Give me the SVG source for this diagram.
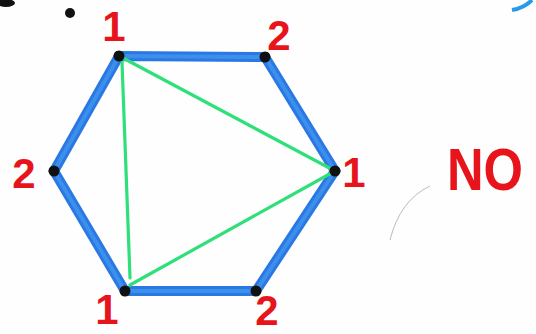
<svg xmlns="http://www.w3.org/2000/svg" width="536" height="334" viewBox="0 0 536 334">
<style>
.edge{stroke:#2a78e4;stroke-width:10;stroke-linecap:round;fill:none}
.core{stroke:#4aa0f0;stroke-width:4;stroke-linecap:round;fill:none;opacity:.6}
.diag{stroke:#2fe07a;stroke-width:3.2;stroke-linecap:round;fill:none}
.v{fill:#111}
.lbl{font-family:"Liberation Sans",Arial,sans-serif;font-weight:bold;fill:#e8141c;font-size:42px;text-anchor:middle}
</style>
<rect width="536" height="334" fill="#fefefe"/>
<circle cx="70" cy="13" r="5" fill="#111"/>
<ellipse cx="6" cy="3" rx="9" ry="4" fill="#111"/>
<path d="M512 10 Q524 8 532 0" stroke="#2a9ae8" stroke-width="4" fill="none"/>
<path d="M430 186 Q400 200 390 240" stroke="#aaa" stroke-width="0.8" fill="none"/>
<g id="connectors">
<path class="edge" d="M119 56 L265 57 L335 171 L256 291 L125 291 L54 171 Z"/>
<path class="core" d="M119 56 L265 57 L335 171 L256 291 L125 291 L54 171 Z"/>
<path class="diag" d="M122 62 L130 278"/>
<path class="diag" d="M123 58 L335 171"/>
<path class="diag" d="M130 285 L335 171"/>
</g>
<g id="n1"><circle class="v" cx="119" cy="56" r="5.5"/><text class="lbl" x="114" y="41">1</text></g>
<g id="n2"><circle class="v" cx="265" cy="57" r="5.5"/><text class="lbl" x="279" y="50">2</text></g>
<g id="n3"><circle class="v" cx="335" cy="171" r="5.5"/><text class="lbl" x="354" y="187">1</text></g>
<g id="n4"><circle class="v" cx="256" cy="291" r="5.5"/><text class="lbl" x="267" y="325">2</text></g>
<g id="n5"><circle class="v" cx="125" cy="291" r="5.5"/><text class="lbl" x="107" y="324">1</text></g>
<g id="n6"><circle class="v" cx="54" cy="171" r="5.5"/><text class="lbl" x="24" y="188">2</text></g>
<text class="lbl" x="485" y="190" style="font-size:60px" textLength="76" lengthAdjust="spacingAndGlyphs">NO</text>
</svg>
